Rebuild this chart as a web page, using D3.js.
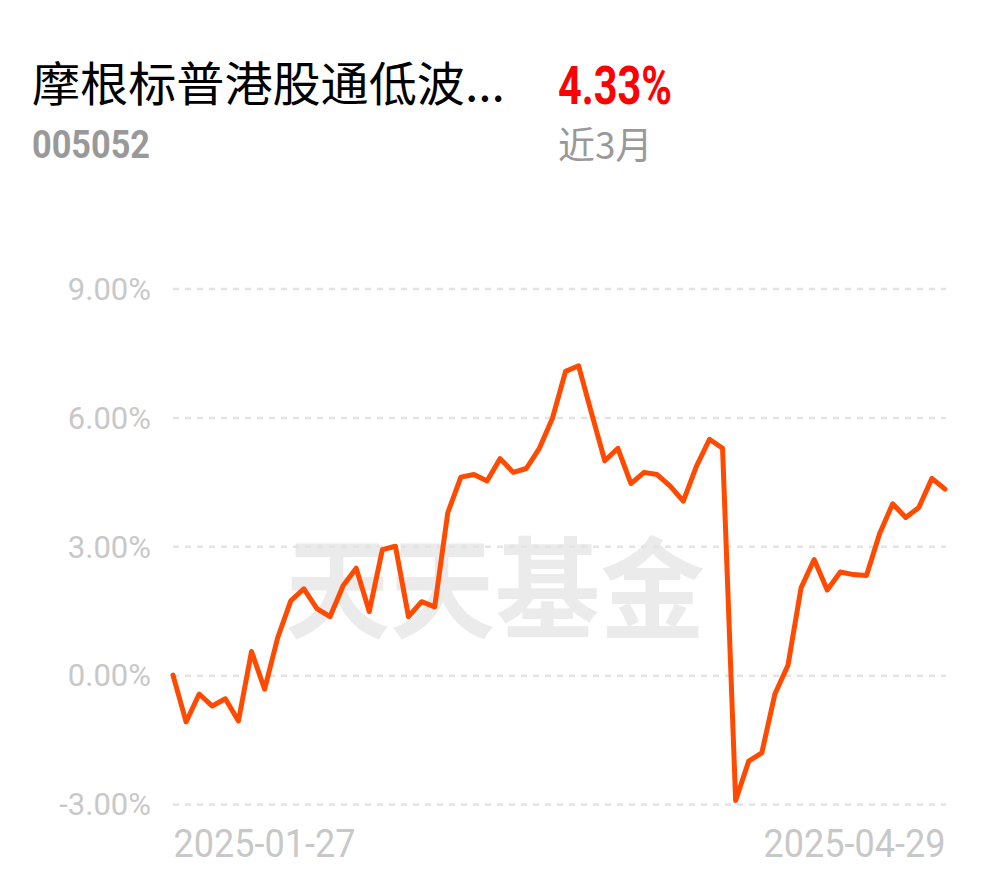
<!DOCTYPE html>
<html>
<head>
<meta charset="utf-8">
<script src="https://cdn.jsdelivr.net/npm/d3@7"></script>
<style>
  html, body { margin: 0; padding: 0; background: #fff; }
  svg { display: block; }
</style>
</head>
<body>
<svg id="chart" width="990" height="878"></svg>
<script>
// ---------- data ----------
const fundName = "摩根标普港股通低波...";
const fundCode = "005052";
const periodReturn = "4.33%";
const periodLabel = "近3月";
const watermark = "天天基金";

const dates = [
  "2025-01-27",
  "2025-02-05","2025-02-06","2025-02-07","2025-02-10","2025-02-11","2025-02-12","2025-02-13","2025-02-14",
  "2025-02-17","2025-02-18","2025-02-19","2025-02-20","2025-02-21","2025-02-24","2025-02-25","2025-02-26",
  "2025-02-27","2025-02-28",
  "2025-03-03","2025-03-04","2025-03-05","2025-03-06","2025-03-07","2025-03-10","2025-03-11","2025-03-12",
  "2025-03-13","2025-03-14","2025-03-17","2025-03-18","2025-03-19","2025-03-20","2025-03-21","2025-03-24",
  "2025-03-25","2025-03-26","2025-03-27","2025-03-28","2025-03-31",
  "2025-04-01","2025-04-02","2025-04-03","2025-04-07","2025-04-08","2025-04-09","2025-04-10","2025-04-11",
  "2025-04-14","2025-04-15","2025-04-16","2025-04-17","2025-04-18","2025-04-21","2025-04-22","2025-04-23",
  "2025-04-24","2025-04-25","2025-04-28","2025-04-29"
];

const returns = [
  0.00,-1.09,-0.44,-0.72,-0.55,-1.07,0.55,-0.33,0.87,1.73,
  2.01,1.55,1.36,2.08,2.49,1.48,2.92,3.00,1.36,1.71,
  1.59,3.78,4.61,4.67,4.52,5.04,4.72,4.81,5.28,5.98,
  7.07,7.20,6.08,4.99,5.28,4.46,4.72,4.67,4.40,4.05,
  4.86,5.49,5.28,-2.92,-2.00,-1.81,-0.44,0.23,2.03,2.69,
  1.98,2.40,2.34,2.32,3.29,3.99,3.67,3.90,4.58,4.33
];

const yTicks = [9, 6, 3, 0, -3];
const yTickLabels = ["9.00%", "6.00%", "3.00%", "0.00%", "-3.00%"];
const xTickLabels = ["2025-01-27", "2025-04-29"];

// ---------- chart ----------
const svg = d3.select("#chart");
const plotLeft = 173, plotRight = 945, plotTop = 288.5, plotBottom = 804;

const x = d3.scalePoint().domain(dates).range([plotLeft, plotRight]);
const y = d3.scaleLinear().domain([-3, 9]).range([plotBottom, plotTop]);

// header
svg.append("text")
  .attr("x", 32).attr("y", 101)
  .attr("font-family", "'Noto Sans CJK SC', sans-serif")
  .attr("font-size", 47)
  .attr("textLength", 473).attr("lengthAdjust", "spacingAndGlyphs")
  .attr("fill", "#000")
  .text(fundName);

svg.append("text")
  .attr("x", 558).attr("y", 104)
  .attr("font-family", "'Liberation Sans Narrow', 'Roboto', sans-serif")
  .attr("font-weight", 700)
  .attr("font-size", 54)
  .attr("textLength", 114).attr("lengthAdjust", "spacingAndGlyphs")
  .attr("fill", "#ff0000")
  .text(periodReturn);

svg.append("text")
  .attr("x", 32).attr("y", 158)
  .attr("font-family", "'Liberation Sans Narrow', 'Roboto', sans-serif")
  .attr("font-weight", 700)
  .attr("font-size", 38)
  .attr("textLength", 118).attr("lengthAdjust", "spacingAndGlyphs")
  .attr("fill", "#999")
  .text(fundCode);

svg.append("text")
  .attr("x", 558).attr("y", 159)
  .attr("font-family", "'Noto Sans CJK SC', sans-serif")
  .attr("font-size", 37)
  .attr("fill", "#999")
  .text(periodLabel);

// watermark
svg.append("text")
  .attr("x", 285).attr("y", 630)
  .attr("font-family", "'Noto Sans CJK SC', sans-serif")
  .attr("font-weight", 700)
  .attr("font-size", 110)
  .attr("textLength", 420).attr("lengthAdjust", "spacingAndGlyphs")
  .attr("fill", "#ebebeb")
  .text(watermark);

// grid lines
const yAxis = d3.axisLeft(y).tickValues(yTicks)
  .tickSize(-(plotRight + 1 - plotLeft))
  .tickFormat((d, i) => yTickLabels[i]);

const gy = svg.append("g").attr("transform", `translate(${plotLeft},0)`).call(yAxis);
gy.select(".domain").remove();
gy.selectAll(".tick line")
  .attr("stroke", "#e3e3e3")
  .attr("stroke-width", 2.5)
  .attr("stroke-dasharray", "6,6");
gy.selectAll(".tick text")
  .attr("x", -22)
  .attr("dy", "0.35em")
  .attr("fill", "#c8c8c8")
  .attr("font-family", "Roboto, 'Noto Sans', sans-serif")
  .attr("font-size", 31);

// x labels
const xAxis = d3.axisBottom(x).tickValues(xTickLabels).tickSize(0).tickFormat(d => d);
const gx = svg.append("g").attr("transform", `translate(0,${plotBottom})`).call(xAxis);
gx.select(".domain").remove();
gx.selectAll(".tick text")
  .attr("y", 53)
  .attr("dy", 0)
  .attr("fill", "#c8c8c8")
  .attr("font-family", "'Liberation Sans Narrow', 'Roboto', sans-serif")
  .attr("font-size", 38)
  .attr("textLength", 182).attr("lengthAdjust", "spacingAndGlyphs")
  .attr("text-anchor", (d, i) => i === 0 ? "start" : "end");

// line
const line = d3.line()
  .x((d, i) => x(dates[i]))
  .y(d => y(d));

svg.append("path")
  .datum(returns)
  .attr("d", line)
  .attr("fill", "none")
  .attr("stroke", "#ff4a00")
  .attr("stroke-width", 5)
  .attr("stroke-linejoin", "round")
  .attr("stroke-linecap", "round");
</script>
</body>
</html>
